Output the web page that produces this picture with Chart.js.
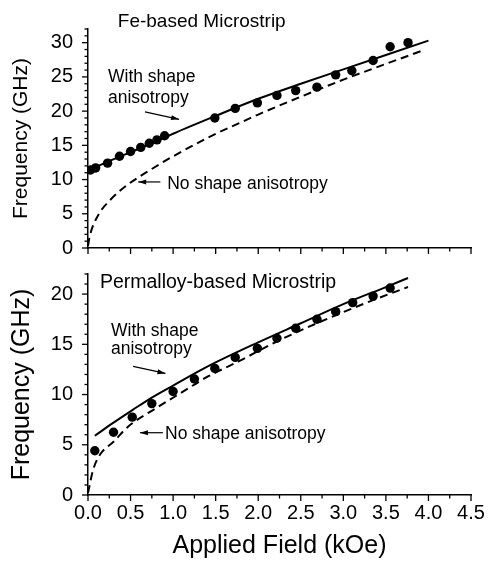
<!DOCTYPE html>
<html>
<head>
<meta charset="utf-8">
<script src="https://cdn.jsdelivr.net/npm/chart.js@4.4.0/dist/chart.umd.min.js"></script>
<style>
  body { margin: 0; background: #fff; }
  #wrap { position: relative; width: 488px; height: 564px; }
  canvas { position: absolute; left: 0; }
  #feChart { top: 0; }
  #pyChart { top: 256px; }
</style>
</head>
<body>
<div id="wrap">
  <canvas id="feChart" width="488" height="256"></canvas>
  <canvas id="pyChart" width="488" height="308"></canvas>
</div>
<script>
const FONT = '"Liberation Sans", Arial, sans-serif';

// Fe-based microstrip: measured points
const feField = [0.03, 0.09, 0.23, 0.37, 0.50, 0.62, 0.72, 0.81, 0.90, 1.49, 1.73, 1.99, 2.22, 2.44, 2.69, 2.91, 3.10, 3.35, 3.55, 3.76];
const feFreq = [11.4, 11.7, 12.4, 13.4, 14.1, 14.7, 15.3, 15.8, 16.4, 19.0, 20.4, 21.2, 22.3, 23.0, 23.5, 25.3, 25.9, 27.4, 29.4, 30.0];
// Fe: with shape anisotropy (solid)
const feShapeField = [0, 0.25, 0.5, 0.75, 1.0, 1.5, 2.0, 2.5, 3.0, 3.5, 4.0];
const feShapeFreq = [11.3, 12.7, 14.0, 15.3, 16.7, 19.3, 21.8, 24.0, 26.1, 28.2, 30.3];
// Fe: no shape anisotropy (dashed)
const feNoShapeField = [0, 0.02, 0.12, 0.26, 0.45, 0.73, 1.0, 1.47, 1.77, 2.0, 2.5, 3.0, 3.5, 3.94];
const feNoShapeFreq = [0.3, 1.7, 4.8, 7.0, 9.1, 11.4, 13.4, 16.5, 18.2, 19.5, 22.1, 24.6, 26.9, 28.9];

// Permalloy-based microstrip: measured points
const pyField = [0.08, 0.30, 0.52, 0.75, 1.0, 1.25, 1.49, 1.73, 1.99, 2.22, 2.44, 2.69, 2.91, 3.11, 3.35, 3.55];
const pyFreq = [4.4, 6.25, 7.75, 9.1, 10.3, 11.55, 12.6, 13.7, 14.6, 15.6, 16.6, 17.5, 18.25, 19.15, 19.8, 20.6];
// Permalloy: with shape anisotropy (solid)
const pyShapeField = [0.08, 0.3, 0.53, 0.75, 1.0, 1.43, 2.0, 2.5, 3.0, 3.5, 3.76];
const pyShapeFreq = [5.9, 7.2, 8.5, 9.7, 10.9, 12.9, 15.2, 17.1, 19.0, 20.7, 21.6];
// Permalloy: no shape anisotropy (dashed)
const pyNoShapeField = [0, 0.06, 0.14, 0.30, 0.47, 0.81, 1.08, 1.41, 1.77, 2.2, 2.69, 3.35, 3.76];
const pyNoShapeFreq = [0.2, 2.5, 4.0, 5.3, 6.8, 8.7, 10.1, 11.8, 13.3, 15.2, 17.1, 19.4, 20.7];

const xTicks = [0, 0.5, 1.0, 1.5, 2.0, 2.5, 3.0, 3.5, 4.0, 4.5];

const pts = (xs, ys) => xs.map((v, i) => ({ x: v, y: ys[i] }));

// draws minor/major ticks, text notes and arrows
const decor = {
  id: 'decor',
  afterDraw(chart, args, opts) {
    const ctx = chart.ctx;
    const xs = chart.scales.x, ys = chart.scales.y;
    const seg = (x1, y1, x2, y2) => { ctx.beginPath(); ctx.moveTo(x1, y1); ctx.lineTo(x2, y2); ctx.stroke(); };
    ctx.save();
    ctx.strokeStyle = '#000';
    ctx.lineWidth = 1.3;
    for (let i = 0; i <= 18; i++) {
      const px = xs.getPixelForValue(i * 0.25);
      seg(px, ys.bottom, px, ys.bottom + (i % 2 === 0 ? 6 : 3.5));
    }
    for (let v = 0; v <= ys.max; v++) {
      const py = ys.getPixelForValue(v);
      seg(xs.left, py, xs.left - (v % 5 === 0 ? 6 : 3.5), py);
    }
    ctx.fillStyle = '#000';
    ctx.textBaseline = 'alphabetic';
    ctx.textAlign = 'left';
    opts.notes.forEach(n => {
      ctx.font = n.size + 'px ' + FONT;
      ctx.fillText(n.text, xs.getPixelForValue(n.x), ys.getPixelForValue(n.y));
    });
    opts.arrows.forEach(a => {
      const x1 = xs.getPixelForValue(a[0]), y1 = ys.getPixelForValue(a[1]);
      const x2 = xs.getPixelForValue(a[2]), y2 = ys.getPixelForValue(a[3]);
      ctx.lineWidth = 1.2;
      seg(x1, y1, x2, y2);
      const ang = Math.atan2(y2 - y1, x2 - x1);
      ctx.beginPath();
      ctx.moveTo(x2, y2);
      ctx.lineTo(x2 - 8 * Math.cos(ang) + 2.5 * Math.sin(ang), y2 - 8 * Math.sin(ang) - 2.5 * Math.cos(ang));
      ctx.lineTo(x2 - 8 * Math.cos(ang) - 2.5 * Math.sin(ang), y2 - 8 * Math.sin(ang) + 2.5 * Math.cos(ang));
      ctx.closePath();
      ctx.fill();
    });
    ctx.restore();
  }
};

function makeChart(id, cfg) {
  return new Chart(document.getElementById(id), {
    type: 'scatter',
    data: {
      datasets: [
        { data: cfg.points, pointRadius: 4.7, pointBackgroundColor: '#000', pointBorderWidth: 0, showLine: false },
        { data: cfg.shape, showLine: true, borderColor: '#000', borderWidth: 2, pointRadius: 0, tension: 0.4, cubicInterpolationMode: 'monotone' },
        { data: cfg.noShape, showLine: true, borderColor: '#000', borderWidth: 2, borderDash: [8, 5], pointRadius: 0, tension: 0.4, cubicInterpolationMode: 'monotone' }
      ]
    },
    options: {
      responsive: false,
      animation: false,
      layout: { autoPadding: false, padding: { top: cfg.padTop, right: 17, left: 0, bottom: 0 } },
      scales: {
        x: {
          type: 'linear', min: 0, max: 4.5,
          afterBuildTicks: s => { s.ticks = xTicks.map(v => ({ value: v })); },
          afterFit: s => { s.height = cfg.xHeight; s.paddingLeft = 0; s.paddingRight = 0; },
          grid: { display: false, drawTicks: false },
          border: { display: true, color: '#000', width: 1.5 },
          ticks: {
            display: cfg.showX, padding: 6, color: '#000',
            font: { family: FONT, size: 20 },
            callback: v => v.toFixed(1)
          },
          title: {
            display: cfg.showX, text: 'Applied Field (kOe)', color: '#000',
            font: { family: FONT, size: 25 }, padding: { top: 0, bottom: 3 }
          }
        },
        y: {
          type: 'linear', min: 0, max: cfg.yMax,
          afterFit: s => { s.width = 88; s.paddingTop = 0; s.paddingBottom = 0; },
          grid: { display: false, drawTicks: false },
          border: { display: true, color: '#000', width: 1.5 },
          ticks: { stepSize: 5, includeBounds: false, padding: 15, color: '#000', font: { family: FONT, size: 20 } },
          title: {
            display: true, text: 'Frequency (GHz)', color: '#000',
            font: { family: FONT, size: cfg.yTitleSize }, padding: { top: cfg.yTitlePad, bottom: 0 }
          }
        }
      },
      plugins: {
        legend: { display: false },
        tooltip: { enabled: false },
        decor: { notes: cfg.notes, arrows: cfg.arrows }
      }
    },
    plugins: [decor]
  });
}

makeChart('feChart', {
  points: pts(feField, feFreq),
  shape: pts(feShapeField, feShapeFreq),
  noShape: pts(feNoShapeField, feNoShapeFreq),
  yMax: 32, padTop: 29, xHeight: 8, showX: false,
  yTitleSize: 21, yTitlePad: 9,
  notes: [
    { text: 'Fe-based Microstrip', x: 0.35, y: 32.35, size: 19 },
    { text: 'With shape', x: 0.235, y: 24.2, size: 17.5 },
    { text: 'anisotropy', x: 0.235, y: 21.25, size: 17.5 },
    { text: 'No shape anisotropy', x: 0.93, y: 8.55, size: 17.5 }
  ],
  arrows: [[0.67, 19.9, 1.07, 18.8], [0.85, 9.65, 0.59, 9.65]]
});

makeChart('pyChart', {
  points: pts(pyField, pyFreq),
  shape: pts(pyShapeField, pyShapeFreq),
  noShape: pts(pyNoShapeField, pyNoShapeFreq),
  yMax: 22, padTop: 18, xHeight: 69, showX: true,
  yTitleSize: 25, yTitlePad: 7,
  notes: [
    { text: 'Permalloy-based Microstrip', x: 0.14, y: 20.6, size: 19.5 },
    { text: 'With shape', x: 0.27, y: 15.85, size: 17.5 },
    { text: 'anisotropy', x: 0.27, y: 14.05, size: 17.5 },
    { text: 'No shape anisotropy', x: 0.905, y: 5.6, size: 17.5 }
  ],
  arrows: [[0.53, 12.8, 0.91, 12.1], [0.88, 6.2, 0.61, 6.2]]
});
</script>
</body>
</html>
